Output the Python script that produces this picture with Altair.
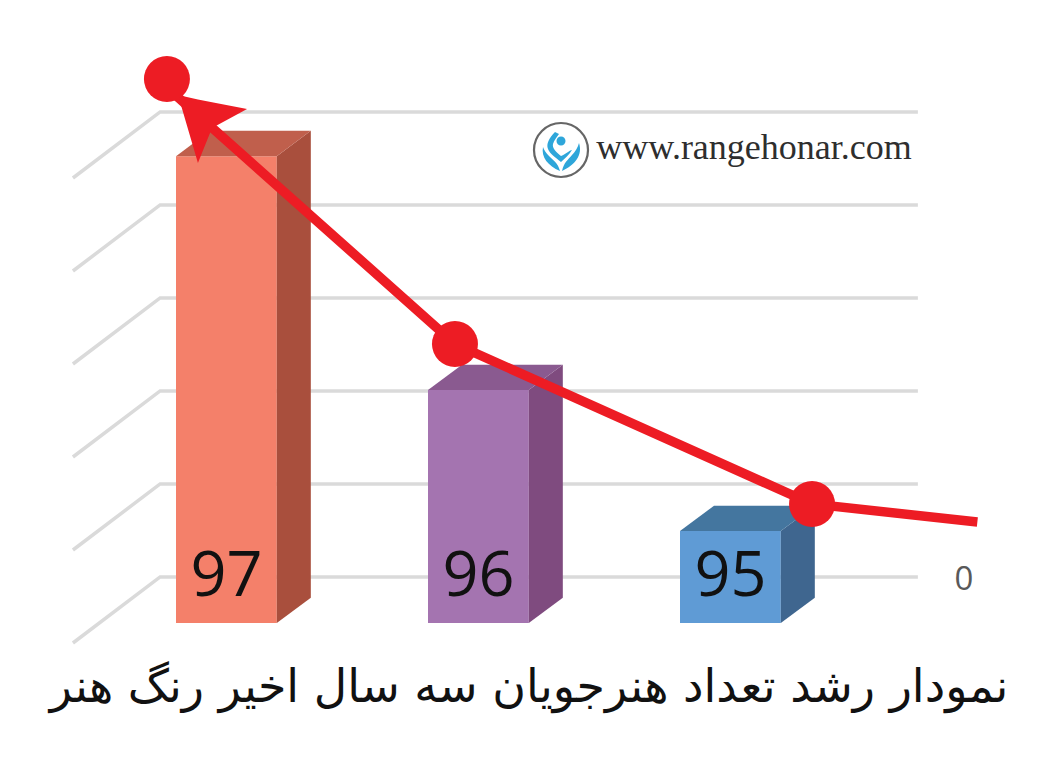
import altair as alt
import pandas as pd

bar_labels = ["97", "96", "95"]
bar_heights = [5.02, 2.505, 0.989]
front_colors = ["#F4806A", "#A474B0", "#5F9BD5"]
top_colors = ["#C05F4C", "#8A5A90", "#44769F"]
side_colors = ["#A94F3D", "#7F4B7F", "#3F668F"]
grid_levels = [0, 1, 2, 3, 4, 5]
trend_x = [-0.016, 1.107, 2.524, 3.18]
trend_y = [5.71, 3.0, 1.28, 1.086]
marker_x = [-0.036, 1.107, 2.524]
marker_y = [5.85, 3.0, 1.28]
arrow_x = [0.008, 0.087, 0.143, 0.282]
arrow_top = [5.677, 5.63, 5.60, 5.527]
arrow_bottom = [5.677, 4.946, 5.323, 5.527]

BAR_W, DX, DY = 0.4, 0.135, 0.272
PX0, PY0, UX, UY = 176, 623, 252, 93
W, H = 1035, 745
xs = alt.Scale(domain=[(8 - PX0) / UX, (8 + W - PX0) / UX], nice=False, zero=False)
ys = alt.Scale(domain=[(PY0 - 8 - H) / UY, (PY0 - 8) / UY], nice=False, zero=False)
X = lambda f: alt.X(f, type="quantitative", scale=xs, axis=None)
Y = lambda f: alt.Y(f, type="quantitative", scale=ys, axis=None)

rows = []
for i, h in enumerate(bar_heights):
    a, b, c = i, i + BAR_W, i + BAR_W + DX
    rows += [dict(x=a, lo=0, hi=h, c=front_colors[i]), dict(x=b, lo=0, hi=h, c=front_colors[i])]
    rows += [dict(x=b, lo=0, hi=h, c=side_colors[i]), dict(x=c, lo=DY, hi=h + DY, c=side_colors[i])]
    rows += [dict(x=a, lo=h, hi=h, c=top_colors[i]), dict(x=a + DX, lo=h, hi=h + DY, c=top_colors[i]),
             dict(x=b, lo=h, hi=h + DY, c=top_colors[i]), dict(x=c, lo=h + DY, hi=h + DY, c=top_colors[i])]
faces = pd.DataFrame(rows)

grid = pd.DataFrame([dict(level=v, x=x, y=v + off) for v in grid_levels
                     for x, off in [(-0.409, -0.215), (-0.063, 0.495), (2.944, 0.495)]])
grid_layer = alt.Chart(grid).mark_line(color="#DADADA", strokeWidth=3.5).encode(
    x=X("x"), y=Y("y"), detail="level:N")
face_layer = alt.Chart(faces).mark_area(orient="vertical", strokeWidth=0).encode(
    x=X("x"), y=Y("lo"), y2="hi:Q", color=alt.Color("c:N", scale=None))

labels = pd.DataFrame({"x": [i + BAR_W / 2 for i in range(3)], "y": [0.5] * 3, "t": bar_labels})
label_layer = alt.Chart(labels).mark_text(font="Open Sans", fontSize=63, color="#111111").encode(
    x=X("x"), y=Y("y"), text="t:N")

trend = pd.DataFrame({"x": trend_x, "y": trend_y})
trend_layer = alt.Chart(trend).mark_line(color="#ED1C24", strokeWidth=9.5).encode(x=X("x"), y=Y("y"))
arrow = pd.DataFrame({"x": arrow_x, "a": arrow_top, "b": arrow_bottom})
arrow_layer = alt.Chart(arrow).mark_area(orient="vertical", color="#ED1C24").encode(
    x=X("x"), y=Y("a"), y2="b:Q")
markers = pd.DataFrame({"x": marker_x, "y": marker_y})
marker_layer = alt.Chart(markers).mark_point(filled=True, color="#ED1C24", opacity=1, size=2116).encode(
    x=X("x"), y=Y("y"))


def note(text, px, py, **kw):
    return alt.Chart(pd.DataFrame({"t": [text]})).mark_text(**kw).encode(
        x=alt.value(px - 8), y=alt.value(py - 8), text="t:N")


zero = note("0", 964, 580, font="Open Sans", fontSize=33, color="#595959")
url = note("www.rangehonar.com", 754, 148, font="Liberation Serif", fontSize=36, color="#2E2E2E")
title = note("نمودار رشد تعداد هنرجویان سه سال اخیر رنگ هنر", 529, 688,
             font="DejaVu Sans", fontSize=46, color="#111111")

logo_pos = pd.DataFrame({"x": [(561 - PX0) / UX], "y": [(PY0 - 150) / UY]})
ring = alt.Chart(logo_pos).mark_point(
    shape="circle", size=2916, color="#666666", fill="white", opacity=1, filled=False, strokeWidth=2.2
).encode(x=X("x"), y=Y("y"))
logo_paths = [
    "M 0.18 -0.07 C 0.22 0.05 0.14 0.15 0.01 0.21 C 0.03 0.12 0.07 0.10 0.11 0.05 C 0.14 0.02 0.17 -0.03 0.18 -0.07 Z",
    "M -0.18 -0.03 C -0.20 0.07 -0.13 0.16 -0.01 0.21 C -0.03 0.13 -0.08 0.10 -0.12 0.06 C -0.15 0.03 -0.17 0 -0.18 -0.03 Z",
    "M -0.06 -0.18 C -0.12 -0.12 -0.15 -0.06 -0.13 -0.01 C -0.11 0.04 -0.06 0.07 0 0.12 C 0.04 0.08 0.08 0.05 0.11 0 C 0.09 0 0.03 0.05 0 0.06 C -0.05 0.02 -0.09 -0.02 -0.08 -0.06 C -0.07 -0.10 -0.04 -0.13 -0.02 -0.16 Z",
    "M 0 -0.135 C 0.025 -0.135 0.045 -0.115 0.045 -0.09 C 0.045 -0.065 0.025 -0.045 0 -0.045 C -0.025 -0.045 -0.045 -0.065 -0.045 -0.09 C -0.045 -0.115 -0.025 -0.135 0 -0.135 Z",
]
logo = [alt.Chart(logo_pos).mark_point(
    shape=p, size=40000, filled=True, color="#2EA6DA", opacity=1, strokeWidth=0).encode(x=X("x"), y=Y("y"))
    for p in logo_paths]

chart = alt.layer(
    grid_layer, face_layer, label_layer, trend_layer, arrow_layer, marker_layer,
    zero, ring, *logo, url, title).properties(
    width=W, height=H, padding=0, autosize=alt.AutoSizeParams(type="none"), background="white"
).configure_view(stroke=None)

chart.save("out.html", embed_options={"renderer": "svg", "actions": False})
